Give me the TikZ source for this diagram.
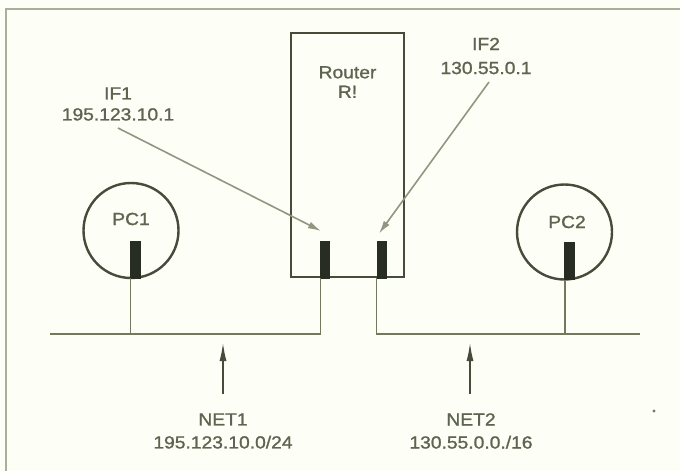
\documentclass[tikz,border=0pt]{standalone}
\usepackage{fontspec}
\setmainfont{Liberation Sans}[FakeStretch=1.1,FakeBold=1.2]
\usetikzlibrary{arrows.meta}
\definecolor{bg}{RGB}{253,254,246}
\definecolor{frame}{RGB}{170,175,155}
\definecolor{ink}{RGB}{70,75,58}
\definecolor{wire}{RGB}{115,120,95}
\definecolor{pointer}{RGB}{145,150,128}
\definecolor{txt}{RGB}{95,100,80}
\definecolor{portfill}{RGB}{40,45,35}
\tikzset{
  lbl/.style={text=txt, font=\fontsize{17.5}{22}\selectfont, align=center, inner sep=0pt},
  box/.style={draw=ink, line width=2.8pt, minimum width=113pt, minimum height=244pt, inner sep=0pt},
  pc/.style={draw=ink, line width=2.4pt, circle, minimum size=95pt, inner sep=0pt},
  port/.style={fill=portfill, draw=portfill, line width=0.8pt, minimum width=9pt, minimum height=37pt, inner sep=0pt},
  wireline/.style={draw=wire, line width=1.8pt},
  pointline/.style={draw=pointer, line width=1.6pt, -{Latex[length=13pt,width=7pt]}},
  netarrow/.style={draw=ink, line width=1.4pt, -{Latex[length=18pt,width=7pt]}},
}
\begin{document}
\begin{tikzpicture}[x=1pt,y=-1pt]
\useasboundingbox (0,0) rectangle (680,471);
\fill[bg] (0,0) rectangle (680,471);
% frame
\coordinate (ftl) at (6,9);
\coordinate (ftr) at (680,9);
\coordinate (fbl) at (6,471);
\draw[frame, line width=2.2pt] (ftr) -- (ftl) -- (fbl);
% router
\node[box] (router) at (347.5,155) {};
\node[lbl, font=\fontsize{17.5}{19.5}\selectfont] (rlabel) at (347.5,82) {Router\\R!};
% ports
\node[port] (p1) at (324.5,259.5) {};
\node[port] (p2) at (381.5,259.5) {};
% PCs
\node[pc] (pc1) at (131,230.5) {};
\node[lbl] (pc1l) at (131,219) {PC1};
\node[port, minimum width=10pt] (pc1b) at (135.5,259.5) {};
\node[pc] (pc2) at (564.5,232) {};
\node[lbl] (pc2l) at (567,222) {PC2};
\node[port, minimum width=10pt] (pc2b) at (569.5,261) {};
% buses
\coordinate (b1l) at (50,334);
\coordinate (b1r) at (320.5,334);
\coordinate (b2l) at (376.5,334);
\coordinate (b2r) at (640,334);
\coordinate (pc1d) at (130.5,334);
\coordinate (pc2d) at (565,334);
\draw[wireline] (b1l) -- (b1r) -- (b1r |- p1.south);
\draw[wireline] (b2r) -- (b2l) -- (b2l |- p2.south);
\draw[wireline] (pc1d) -- (pc1d |- pc1b.south);
\draw[wireline] (pc2d) -- (pc2d |- pc2b.south);
% interface labels
\node[lbl, font=\fontsize{17.5}{21}\selectfont] (if1) at (118,104) {IF1\\195.123.10.1};
\node[lbl, font=\fontsize{17.5}{24}\selectfont] (if2) at (486,56) {IF2\\130.55.0.1};
\coordinate (if1s) at (118,128);
\coordinate (if1t) at (321,231);
\coordinate (if2s) at (489,82);
\coordinate (if2t) at (379,233.5);
\draw[pointline] (if1s) -- (if1t);
\draw[pointline] (if2s) -- (if2t);
% net labels
\node[lbl, font=\fontsize{17.5}{23}\selectfont] (net1) at (223,431) {NET1\\195.123.10.0/24};
\node[lbl, font=\fontsize{17.5}{23}\selectfont] (net2) at (471,431) {NET2\\130.55.0.0./16};
\coordinate (n1s) at (223,394);
\coordinate (n1t) at (223,343);
\coordinate (n2s) at (470,394);
\coordinate (n2t) at (470,343);
\draw[netarrow] (n1s) -- (n1t);
\draw[netarrow] (n2s) -- (n2t);
% stray dot
\coordinate (dot) at (654,411);
\fill[wire] (dot) circle (1.6pt);
\end{tikzpicture}
\end{document}
